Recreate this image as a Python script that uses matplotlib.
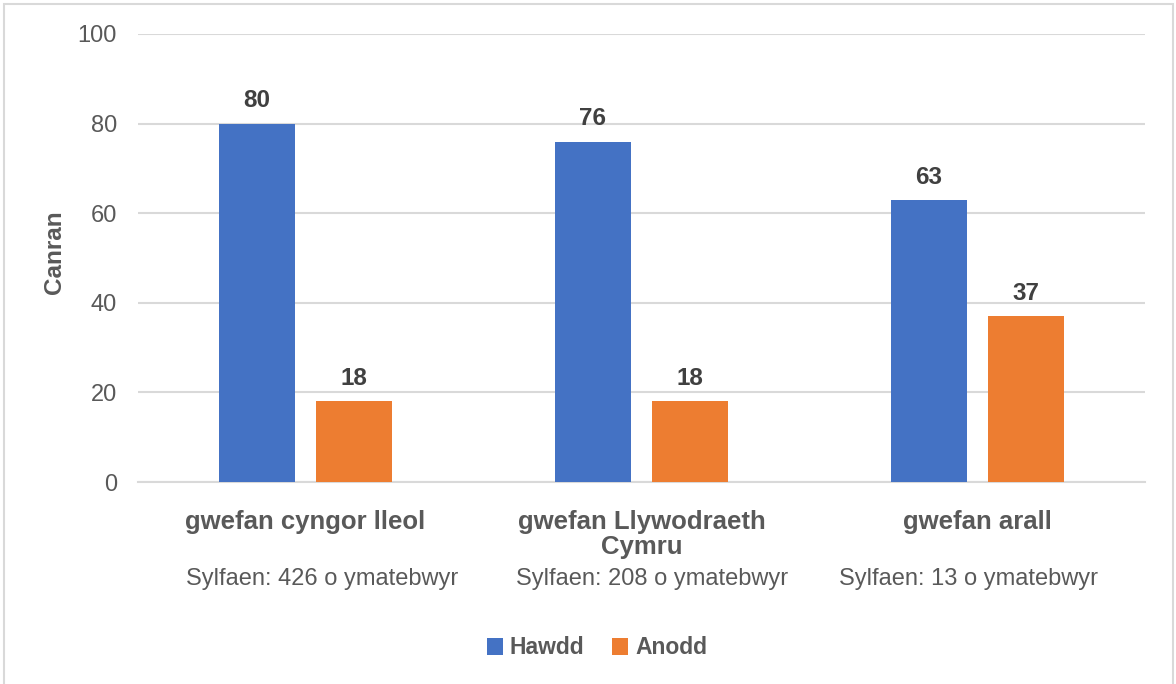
import numpy as np
import matplotlib.pyplot as plt
from matplotlib.patches import Rectangle

plt.rcParams['font.family'] = ['Liberation Sans', 'DejaVu Sans']

categories = ['gwefan cyngor lleol', 'gwefan Llywodraeth\nCymru', 'gwefan arall']
bases = ['Sylfaen: 426 o ymatebwyr', 'Sylfaen: 208 o ymatebwyr', 'Sylfaen: 13 o ymatebwyr']
hawdd = [80, 76, 63]
anodd = [18, 18, 37]
series_names = ['Hawdd', 'Anodd']
colors = ['#4472C4', '#ED7D31']

# the base-size text boxes sit a little off the group centres in the original
base_shift = [0.048, 0.03, -0.027]

fig = plt.figure(figsize=(11.76, 6.84), dpi=100)
ax = fig.add_axes([0.117, 0.2953, 0.857, 0.655])

x = np.arange(len(categories))
w = 0.226
off = 0.145
b1 = ax.bar(x - off, hawdd, w, color=colors[0], label=series_names[0], zorder=3)
b2 = ax.bar(x + off, anodd, w, color=colors[1], label=series_names[1], zorder=3)

# value labels above bars
for bars in (b1, b2):
    for r in bars:
        ax.annotate(f'{r.get_height():.0f}', (r.get_x() + r.get_width() / 2, r.get_height()),
                    xytext=(0, 8), textcoords='offset points', ha='center', va='bottom',
                    fontsize=17.5, fontweight='bold', color='#404040')

ax.set_xlim(-0.5, 2.5)
ax.set_ylim(0, 100)
ax.set_yticks(range(0, 101, 20))
ax.yaxis.grid(True, color='#D9D9D9', linewidth=1.5, zorder=0)
ax.tick_params(axis='y', length=0, labelsize=17, labelcolor='#595959', pad=15)
ax.tick_params(axis='x', length=0)
ax.set_xticks(x)
ax.set_xticklabels([])
for s in ['top', 'right', 'left']:
    ax.spines[s].set_visible(False)
ax.spines['bottom'].set_color('#D9D9D9')
ax.spines['bottom'].set_linewidth(1.5)

# category names and base sizes under the axis
for i in range(len(categories)):
    ax.text(x[i], -6.3, categories[i], ha='center', va='top', fontsize=18.5,
            fontweight='bold', color='#595959', linespacing=1.05,
            transform=ax.transData, clip_on=False)
    ax.text(x[i] + base_shift[i], -19.3, bases[i], ha='center', va='top', fontsize=17,
            color='#595959', transform=ax.transData, clip_on=False)

fig.text(54 / 1176, 1 - 252 / 684, 'Canran', rotation=90, ha='center', va='center',
         fontsize=17.5, fontweight='bold', color='#595959')

fig.legend(loc='center', bbox_to_anchor=(597 / 1176, 1 - 648 / 684), ncol=2, frameon=False,
           handlelength=0.7, handleheight=0.7, handletextpad=0.3,
           columnspacing=1.2, prop={'weight': 'bold', 'size': 16.5}, labelcolor='#595959')

fig.patches.append(Rectangle((4 / 1176, -0.02), 1169 / 1176, 1.02 - 4 / 684,
                             transform=fig.transFigure, fill=False,
                             edgecolor='#D9D9D9', linewidth=1.5))

plt.savefig('out.png', dpi=100)
